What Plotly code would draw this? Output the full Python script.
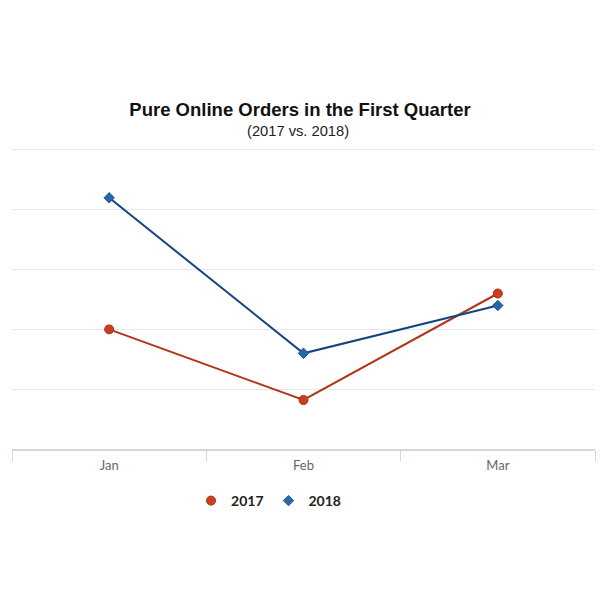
import plotly.graph_objects as go

months = ["Jan", "Feb", "Mar"]
orders_2017 = [100, 41, 130]
orders_2018 = [210, 80, 120]

red_line, red_dot = "#b23418", "#c8401f"
blue_line, blue_dot = "#15447e", "#2766a8"

fig = go.Figure()

# lines first, markers on top as separate traces so the legend shows only the symbol
fig.add_trace(go.Scatter(x=months, y=orders_2017, mode="lines", showlegend=False,
                         line=dict(color=red_line, width=2), hoverinfo="skip"))
fig.add_trace(go.Scatter(x=months, y=orders_2018, mode="lines", showlegend=False,
                         line=dict(color=blue_line, width=2), hoverinfo="skip"))
fig.add_trace(go.Scatter(
    x=months, y=orders_2017, name="<b>2017</b>", mode="markers",
    marker=dict(symbol="circle", size=9, color=red_dot, line=dict(color="#a52f15", width=1)),
))
fig.add_trace(go.Scatter(
    x=months, y=orders_2018, name="<b>2018</b>", mode="markers",
    marker=dict(symbol="diamond", size=8, color=blue_dot, line=dict(color="#1d5593", width=1)),
))

fig.update_layout(
    width=600, height=600,
    margin=dict(l=12, r=5, t=138, b=151),
    paper_bgcolor="white", plot_bgcolor="white",
    title=dict(text="<b>Pure Online Orders in the First Quarter</b>",
               x=0.5, xanchor="center", y=1 - 110 / 600, yanchor="middle",
               font=dict(family="Arial, Liberation Sans", size=18.5, color="#111111")),
    annotations=[dict(text="(2017 vs. 2018)", xref="paper", yref="paper",
                      x=0.49, y=(449 - 131) / 311, xanchor="center", yanchor="middle",
                      showarrow=False,
                      font=dict(family="Arial, Liberation Sans", size=14.7, color="#222222"))],
    legend=dict(orientation="h", x=0.44, xanchor="center", y=-52 / 311, yanchor="middle",
                font=dict(family="Lato", size=14, color="#222222"),
                itemwidth=30, traceorder="normal"),
)

fig.update_xaxes(
    type="category", range=[-0.5, 2.5],
    showline=True, linecolor="#cfd9e0", linewidth=1.5,
    ticks="outside", tickson="boundaries", ticklen=10, tickcolor="#cfd9e0",
    showgrid=False, ticklabelstandoff=4,
    tickfont=dict(family="Lato", size=13, color="#666666"),
)
fig.update_yaxes(
    range=[0, 260], dtick=50, showticklabels=False,
    showgrid=True, gridcolor="#e3e8ec", gridwidth=1,
    zeroline=False, showline=False,
)

fig.write_html("out.html", config={"displayModeBar": False},
               post_script="document.body.style.margin='0';")
